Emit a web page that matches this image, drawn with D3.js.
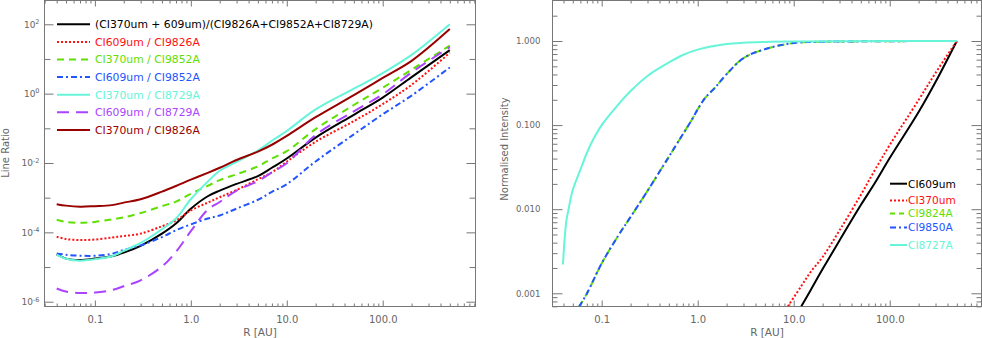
<!DOCTYPE html>
<html>
<head>
<meta charset="utf-8">
<title>CI line ratios</title>
<script src="https://cdnjs.cloudflare.com/ajax/libs/d3/7.8.5/d3.min.js"></script>
<style>
  body { margin: 0; background: #fff; }
  svg { display: block; font-family: "DejaVu Sans", sans-serif; }
  .frame { fill: none; stroke: #777; stroke-width: 1; }
  .domain { display: none; }
  .tick line { stroke: #777; }
  .tick text { fill: #666; font-family: "DejaVu Sans", sans-serif; font-size: 10px; }
  .title { fill: #666; font-size: 10px; }
  .series { fill: none; stroke-width: 2; }
</style>
</head>
<body>
<svg id="chart" width="982" height="338"></svg>
<script>
// ---- left panel: line ratios vs radius ----
var ratioR = [0.04, 0.05, 0.07, 0.1, 0.15, 0.2, 0.3, 0.5, 0.7, 1, 1.5, 2, 3, 5, 7, 10, 20, 50, 100, 200, 500];
var ratioTotal    = [2.3e-5, 1.75e-5, 1.6e-5, 1.75e-5, 2.05e-5, 2.6e-5, 4.1e-5, 9.2e-5, 1.8e-4, 4.8e-4, 1.1e-3, 1.6e-3, 2.5e-3, 4.2e-3, 7.3e-3, 0.0135, 0.054, 0.246, 0.77, 3.0, 18];
var ratio609_9826 = [7.5e-5, 6.4e-5, 6.0e-5, 6.2e-5, 7.1e-5, 7.8e-5, 9.2e-5, 1.5e-4, 2.2e-4, 4.3e-4, 7.2e-4, 1.03e-3, 1.67e-3, 3.4e-3, 5.4e-3, 0.011, 0.041, 0.161, 0.5, 1.8, 15.2];
var ratio370_9852 = [2.3e-4, 2.0e-4, 1.88e-4, 2.0e-4, 2.37e-4, 2.7e-4, 3.6e-4, 5.7e-4, 7.7e-4, 1.3e-3, 2.2e-3, 3.2e-3, 4.75e-3, 8.0e-3, 0.0135, 0.022, 0.095, 0.47, 1.48, 4.9, 24.4];
var ratio609_9852 = [2.46e-5, 2.26e-5, 2.12e-5, 2.12e-5, 2.41e-5, 3.1e-5, 4.2e-5, 7.3e-5, 1.15e-4, 1.7e-4, 2.5e-4, 3.07e-4, 4.85e-4, 8.7e-4, 1.47e-3, 2.45e-3, 0.0111, 0.067, 0.254, 0.88, 5.7];
var ratio370_8729 = [2.26e-5, 1.74e-5, 1.53e-5, 1.69e-5, 2.05e-5, 2.93e-5, 4.94e-5, 1.23e-4, 2.5e-4, 9.0e-4, 2.9e-3, 6.0e-3, 0.0108, 0.0228, 0.0437, 0.084, 0.352, 1.39, 3.93, 13.1, 100];
var ratio609_8729 = [2.41e-6, 1.96e-6, 1.78e-6, 1.83e-6, 2.16e-6, 2.8e-6, 4.15e-6, 1.03e-5, 2.75e-5, 1.08e-4, 4.5e-4, 7.5e-4, 1.6e-3, 3.0e-3, 5.4e-3, 9.8e-3, 0.0646, 0.309, 0.96, 4.1, 21.9];
var ratio370_9826 = [6.5e-4, 5.9e-4, 5.5e-4, 5.7e-4, 6.1e-4, 7.2e-4, 9.0e-4, 1.49e-3, 2.17e-3, 3.3e-3, 5.2e-3, 7.3e-3, 0.0122, 0.0213, 0.0336, 0.0605, 0.209, 0.906, 2.84, 8.8, 72.6];
var ratioNames = ["(CI370um + 609um)/(CI9826A+CI9852A+CI8729A)", "CI609um / CI9826A", "CI370um / CI9852A",
                  "CI609um / CI9852A", "CI370um / CI8729A", "CI609um / CI8729A", "CI370um / CI9826A"];
var ratioTicks = [1e-6, 1e-4, 1e-2, 1, 1e2];
var ratioTickExp = ["-6", "-4", "-2", "0", "2"];
var ratioMinorTicks = [1e-5, 1e-3, 1e-1, 10];

// ---- right panel: normalised intensity vs radius ----
var r609 = [12, 15, 20, 30, 50, 70, 100, 200, 300, 500];
var int609 = [7.0e-4, 1.09e-3, 1.94e-3, 4.25e-3, 0.0112, 0.0205, 0.0406, 0.143, 0.325, 1.0];
var r370 = [8.7, 12, 15, 20, 30, 50, 70, 100, 200, 300, 500];
var int370 = [7.0e-4, 1.22e-3, 1.79e-3, 2.7e-3, 5.6e-3, 0.0148, 0.0292, 0.058, 0.199, 0.417, 1.0];
var r98xx = [0.058, 0.07, 0.1, 0.15, 0.2, 0.3, 0.4, 0.5, 0.6, 0.7, 0.85, 1, 1.2, 1.5, 2, 3, 5, 10, 20, 50, 100, 500];
var int9824 = [6.9e-4, 9.9e-4, 2.27e-3, 4.92e-3, 8.1e-3, 0.0165, 0.0279, 0.0419, 0.0586, 0.0778, 0.111, 0.154, 0.212, 0.275, 0.404, 0.626, 0.799, 0.946, 0.98, 0.99, 0.995, 1.0];
var int9850 = [6.9e-4, 9.9e-4, 2.27e-3, 4.92e-3, 8.1e-3, 0.0165, 0.0279, 0.0419, 0.0586, 0.0778, 0.111, 0.154, 0.212, 0.275, 0.404, 0.626, 0.799, 0.946, 0.98, 0.99, 0.995, 1.0];
var r8727 = [0.0395, 0.041, 0.043, 0.045, 0.05, 0.06, 0.07, 0.08, 0.1, 0.15, 0.2, 0.3, 0.5, 0.7, 1, 2, 3, 5, 10, 100, 500];
var int8727 = [2.2e-3, 4.3e-3, 7.5e-3, 9.8e-3, 0.017, 0.0295, 0.0466, 0.0647, 0.1, 0.178, 0.254, 0.384, 0.555, 0.682, 0.79, 0.92, 0.954, 0.973, 0.986, 1.0, 1.0];
var intNames = ["CI609um", "CI370um", "CI9824A", "CI9850A", "CI8727A"];
var intTicks = [0.001, 0.01, 0.1, 1];
var intTickLabels = ["0.001", "0.010", "0.100", "1.000"];

var rTicks = [0.1, 1, 10, 100];
var rTickLabels = ["0.1", "1.0", "10.0", "100.0"];

// styles
var BLACK = "#000", RED = "#ff1010", GREEN = "#5fe000", BLUE = "#2255ff",
    CYAN = "#66f5d8", PURPLE = "#aa44ff", DARKRED = "#990000";
var DOT = "2,2", DASH = "7,5", DASHDOT = "6,3,2,3", LONGDASH = "12,7";

var svg = d3.select("#chart");

function panel(p) {
  var w = p.right - p.left, h = p.bottom - p.top;
  var g = svg.append("g").attr("transform", "translate(" + p.left + "," + p.top + ")");
  var x = d3.scaleLog().domain(p.xDomain).range([0, w]);
  var y = d3.scaleLog().domain(p.yDomain).range([h, 0]);
  var near = (a, b) => Math.abs(a - b) / b < 1e-6;
  var xMinor = x.ticks().filter(v => !rTicks.some(m => near(v, m)));

  // x axes, ticks pointing inward
  g.append("g").attr("transform", "translate(0," + h + ")")
    .call(d3.axisBottom(x).tickValues(rTicks).tickFormat((d, i) => rTickLabels[i]).tickSize(-6).tickPadding(9));
  g.append("g").attr("transform", "translate(0," + h + ")")
    .call(d3.axisBottom(x).tickValues(xMinor).tickFormat("").tickSize(-3));
  g.append("g").call(d3.axisTop(x).tickValues(rTicks).tickFormat("").tickSize(-6));
  g.append("g").call(d3.axisTop(x).tickValues(xMinor).tickFormat("").tickSize(-3));

  // y axes
  var yl = g.append("g").call(d3.axisLeft(y).tickValues(p.yMajor).tickFormat(p.yFormat || "").tickSize(-p.yMajorLen).tickPadding(p.yPad));
  g.append("g").call(d3.axisLeft(y).tickValues(p.yMinor).tickFormat("").tickSize(-p.yMinorLen));
  g.append("g").attr("transform", "translate(" + w + ",0)")
    .call(d3.axisRight(y).tickValues(p.yMajor).tickFormat("").tickSize(-p.yMajorLen));
  g.append("g").attr("transform", "translate(" + w + ",0)")
    .call(d3.axisRight(y).tickValues(p.yMinor).tickFormat("").tickSize(-p.yMinorLen));
  if (p.yLabel) p.yLabel(yl);
  if (p.yFontSize) yl.selectAll(".tick text").style("font-size", p.yFontSize);

  g.append("rect").attr("class", "frame").attr("width", w).attr("height", h);

  var clipId = "clip" + Math.round(p.left);
  g.append("clipPath").attr("id", clipId).append("rect").attr("width", w).attr("height", h);

  var line = d3.line().x(d => x(d[0])).y(d => y(d[1])).curve(d3.curveCatmullRom.alpha(0.5));
  var plot = g.append("g").attr("clip-path", "url(#" + clipId + ")");
  p.series.forEach(s => {
    plot.append("path").attr("class", "series")
      .attr("d", line(d3.zip(s.r, s.v)))
      .attr("stroke", s.color)
      .attr("stroke-dasharray", s.dash);
  });

  g.append("text").attr("class", "title").attr("text-anchor", "middle")
    .attr("x", w / 2 + p.xTitleShift).attr("y", 336 - p.top).style("font-size", "10.5px").text("R [AU]");
  g.append("text").attr("class", "title").attr("text-anchor", "middle")
    .attr("transform", "translate(" + p.yTitleX + "," + (p.yTitleY - p.top) + ") rotate(-90)")
    .style("font-size", "10px").text(p.yTitle);
  return g;
}

var ratioSeries = [
  { r: ratioR, v: ratioTotal,    color: BLACK,   dash: null },
  { r: ratioR, v: ratio609_9826, color: RED,     dash: DOT },
  { r: ratioR, v: ratio370_9852, color: GREEN,   dash: DASH },
  { r: ratioR, v: ratio609_9852, color: BLUE,    dash: DASHDOT },
  { r: ratioR, v: ratio370_8729, color: CYAN,    dash: null },
  { r: ratioR, v: ratio609_8729, color: PURPLE,  dash: LONGDASH },
  { r: ratioR, v: ratio370_9826, color: DARKRED, dash: null }
];

var left = panel({
  left: 44.5, right: 475.5, top: 0.5, bottom: 306.5,
  xDomain: [Math.pow(10, -1.525), Math.pow(10, 2.967)],
  yDomain: [Math.pow(10, -6.138), Math.pow(10, 2.686)],
  yMajor: ratioTicks, yMinor: ratioMinorTicks, yMajorLen: 9, yMinorLen: 6, yPad: 5,
  yLabel: function (axis) {
    axis.selectAll(".tick").each(function (d, i) {
      var t = d3.select(this).append("text").attr("x", -5).attr("dy", "0.32em")
        .attr("text-anchor", "end").style("font-size", "9px");
      t.append("tspan").text("10");
      t.append("tspan").attr("dy", "-0.55em").style("font-size", "6.5px").text(ratioTickExp[i]);
    });
  },
  series: ratioSeries, xTitleShift: 0, yTitle: "Line Ratio", yTitleX: 8.5 - 44.5, yTitleY: 153
});

// legend of the left panel
ratioSeries.forEach((s, i) => {
  var yy = 24.3 + i * 17.6;
  left.append("line").attr("x1", 57 - 44.5).attr("x2", 90 - 44.5).attr("y1", yy - 0.5).attr("y2", yy - 0.5)
    .attr("stroke", s.color).attr("stroke-width", 2).attr("stroke-dasharray", s.dash);
  left.append("text").attr("x", 95 - 44.5).attr("y", yy - 0.5).attr("dy", "0.36em")
    .attr("fill", s.color).style("font-size", "10.8px").text(ratioNames[i]);
});

var intSeries = [
  { r: r609,  v: int609,  color: BLACK, dash: null },
  { r: r370,  v: int370,  color: RED,   dash: DOT },
  { r: r98xx, v: int9824, color: GREEN, dash: DASH },
  { r: r98xx, v: int9850, color: BLUE,  dash: DASHDOT },
  { r: r8727, v: int8727, color: CYAN,  dash: null }
];

var intMinor = [];
intTicks.forEach(t => { for (var k = 2; k <= 9; k++) if (t * k < 3) intMinor.push(t * k); });
[7e-4, 8e-4, 9e-4].forEach(v => intMinor.push(v));

var right = panel({
  left: 552.5, right: 981.5, top: 0.5, bottom: 306.5,
  xDomain: [Math.pow(10, -1.5125), Math.pow(10, 2.956)],
  yDomain: [Math.pow(10, -3.157), Math.pow(10, 0.4816)],
  yMajor: intTicks, yMinor: intMinor, yMajorLen: 10, yMinorLen: 5, yPad: 12, yFontSize: "8.6px",
  yFormat: (d, i) => intTickLabels[i],
  series: intSeries, xTitleShift: 0, yTitle: "Normalised Intensity", yTitleX: 508 - 552.5, yTitleY: 149
});

// legend of the right panel
var intLegendY = [183.7, 200.5, 213.5, 227.5, 245];
intSeries.forEach((s, i) => {
  var yy = intLegendY[i] - 0.5;
  right.append("line").attr("x1", 890 - 552.5).attr("x2", 907 - 552.5).attr("y1", yy).attr("y2", yy)
    .attr("stroke", s.color).attr("stroke-width", 2).attr("stroke-dasharray", s.dash === DASH ? "5,4" : s.dash);
  right.append("text").attr("x", 908 - 552.5).attr("y", yy).attr("dy", "0.36em")
    .attr("fill", s.color).style("font-size", "10.6px").text(intNames[i]);
});
</script>
</body>
</html>
